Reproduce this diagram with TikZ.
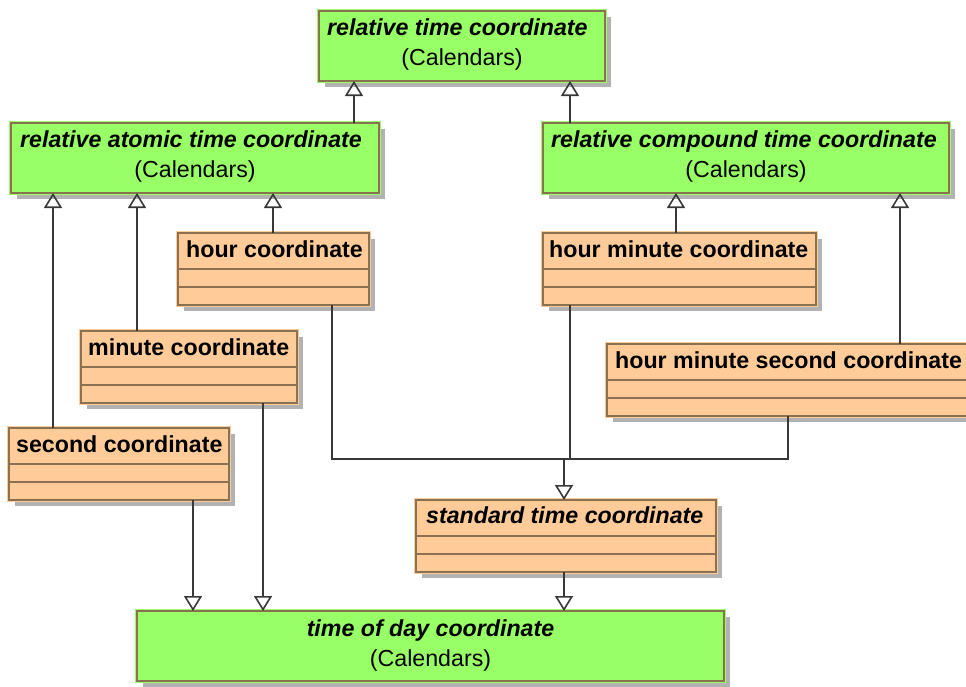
\documentclass[tikz,border=0pt]{standalone}
\usepackage{fontspec}
\setmainfont{Liberation Sans}
\usetikzlibrary{arrows.meta,shadows}
\definecolor{gfill}{RGB}{153,255,102}
\definecolor{ofill}{RGB}{255,204,153}
\definecolor{bord}{RGB}{140,112,82}
\definecolor{shad}{RGB}{178,178,178}
\definecolor{ln}{RGB}{56,56,56}
\tikzset{
  box/.style={draw=bord, line width=1.5pt, anchor=north west, inner sep=0pt, outer sep=0pt,
    drop shadow={shadow xshift=6pt, shadow yshift=-6pt, fill=shad, opacity=1}},
  gbox/.style={box, fill=gfill, preaction={draw=gfill, line width=4.5pt}},
  obox/.style={box, fill=ofill, preaction={draw=ofill, line width=4.5pt}},
  ttl/.style={anchor=base west, inner sep=0pt, font=\fontsize{23.2}{28}\selectfont\bfseries\itshape},
  ottl/.style={anchor=base west, inner sep=0pt, font=\fontsize{23.2}{28}\selectfont\bfseries},
  pkg/.style={anchor=base, inner sep=0pt, font=\fontsize{23.2}{28}\selectfont},
  gen/.style={draw=ln, line width=1.6pt, -{Triangle[open, width=18pt, length=15pt, line width=1.6pt]}},
  plain/.style={draw=ln, line width=1.6pt},
  sep/.style={draw=bord, line width=1.5pt}
}
\newcommand{\compart}[1]{%
  \draw[sep] ([yshift=-36pt]#1.north west) -- ([yshift=-36pt]#1.north east);
  \draw[sep] ([yshift=-54pt]#1.north west) -- ([yshift=-54pt]#1.north east);}
\begin{document}
\begin{tikzpicture}[x=1pt, y=-1pt]
\useasboundingbox (0,0) rectangle (966,686);
% green boxes
\node[gbox, minimum width=286pt, minimum height=70pt] (rtc) at (319,11) {};
\node[ttl] (rtct) at ([xshift=8pt, yshift=-24pt]rtc.north west) {relative time coordinate};
\node[pkg] (rtcp) at ([yshift=-54pt]rtc.north) {(Calendars)};

\node[gbox, minimum width=368pt, minimum height=70pt] (ratc) at (11,123) {};
\node[ttl] (ratct) at ([xshift=9pt, yshift=-24pt]ratc.north west) {relative atomic time coordinate};
\node[pkg] (ratcp) at ([yshift=-54pt]ratc.north) {(Calendars)};

\node[gbox, minimum width=406pt, minimum height=70pt] (rctc) at (543,123) {};
\node[ttl] (rctct) at ([xshift=8pt, yshift=-24pt]rctc.north west) {relative compound time coordinate};
\node[pkg] (rctcp) at ([yshift=-54pt]rctc.north) {(Calendars)};

\node[gbox, minimum width=587pt, minimum height=70pt] (tod) at (137,611) {};
\node[ttl, anchor=base] (todt) at ([yshift=-25pt]tod.north) {time of day coordinate};
\node[pkg] (todp) at ([yshift=-55pt]tod.north) {(Calendars)};

% orange boxes
\node[obox, minimum width=191pt, minimum height=72pt] (hc) at (178,233) {};
\compart{hc}
\node[ottl] (hct) at ([xshift=8pt, yshift=-24pt]hc.north west) {hour coordinate};

\node[obox, minimum width=273pt, minimum height=72pt] (hmc) at (543,233) {};
\compart{hmc}
\node[ottl] (hmct) at ([xshift=6pt, yshift=-24pt]hmc.north west) {hour minute coordinate};

\node[obox, minimum width=216pt, minimum height=72pt] (mc) at (81,331) {};
\compart{mc}
\node[ottl] (mct) at ([xshift=7pt, yshift=-24pt]mc.north west) {minute coordinate};

\node[obox, minimum width=365pt, minimum height=72pt] (hmsc) at (607,344) {};
\compart{hmsc}
\node[ottl] (hmsct) at ([xshift=8pt, yshift=-24pt]hmsc.north west) {hour minute second coordinate};

\node[obox, minimum width=220pt, minimum height=72pt] (sc) at (9,428) {};
\compart{sc}
\node[ottl] (sct) at ([xshift=7pt, yshift=-24pt]sc.north west) {second coordinate};

\node[obox, minimum width=300pt, minimum height=72pt] (stc) at (416,500) {};
\compart{stc}
\node[ttl] (stct) at ([xshift=10pt, yshift=-23pt]stc.north west) {standard time coordinate};

% connectors
\draw[gen] (ratc.north -| 354,0) -- (rtc.south -| 354,0);
\draw[gen] (rctc.north -| 570,0) -- (rtc.south -| 570,0);
\draw[gen] (hc.north -| 273,0) -- (ratc.south -| 273,0);
\draw[gen] (mc.north -| 137,0) -- (ratc.south -| 137,0);
\draw[gen] (sc.north -| 53,0) -- (ratc.south -| 53,0);
\draw[gen] (hmc.north -| 676,0) -- (rctc.south -| 676,0);
\draw[gen] (hmsc.north -| 900,0) -- (rctc.south -| 900,0);
\coordinate (j) at (564,459);
\draw[plain] (hc.south -| 332,0) |- (j);
\draw[plain] (hmsc.south -| 788,0) |- (j);
\draw[plain] (hmc.south -| 570,0) -- (j -| 570,0);
\draw[gen] (j) -- (stc.north -| j);
\draw[gen] (stc.south -| 564,0) -- (tod.north -| 564,0);
\draw[gen] (mc.south -| 263,0) -- (tod.north -| 263,0);
\draw[gen] (sc.south -| 193,0) -- (tod.north -| 193,0);
\end{tikzpicture}
\end{document}
